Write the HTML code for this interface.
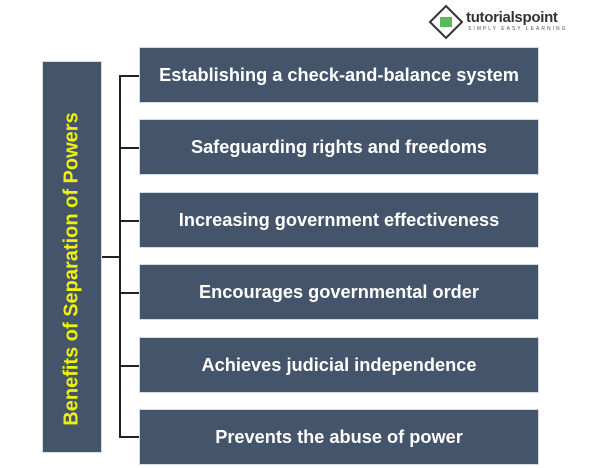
<!DOCTYPE html>
<html><head><style>
body{margin:0;width:601px;height:468px;background:#fff;position:relative;overflow:hidden;font-family:"Liberation Sans",sans-serif}
.b{position:absolute;left:139px;width:400px;height:56px;background:#44546a;border:1px solid #d6dbe2;box-sizing:border-box;color:#fff;font-weight:bold;font-size:18.2px;display:flex;align-items:center;justify-content:center;white-space:nowrap}
.l{position:absolute;background:#222}
</style></head><body>
<div style="position:absolute;left:42px;top:61px;width:60px;height:392px;background:#44546a;border:1px solid #d6dbe2;box-sizing:border-box"></div>
<div style="position:absolute;left:72px;top:269px;transform:translate(-50%,-50%) rotate(-90deg);white-space:nowrap;color:#eef20a;font-weight:bold;font-size:20px">Benefits of Separation of Powers</div>
<div class="l" style="left:102px;top:256px;width:19px;height:2px"></div>
<div class="l" style="left:119px;top:75px;width:2px;height:363px"></div>
<div class="l" style="left:119px;top:75px;width:21px;height:2px"></div>
<div class="l" style="left:119px;top:147px;width:21px;height:2px"></div>
<div class="l" style="left:119px;top:220px;width:21px;height:2px"></div>
<div class="l" style="left:119px;top:292px;width:21px;height:2px"></div>
<div class="l" style="left:119px;top:365px;width:21px;height:2px"></div>
<div class="l" style="left:119px;top:436px;width:21px;height:2px"></div>
<div class="b" style="top:47px">Establishing a check-and-balance system</div>
<div class="b" style="top:119px">Safeguarding rights and freedoms</div>
<div class="b" style="top:192px">Increasing government effectiveness</div>
<div class="b" style="top:264px">Encourages governmental order</div>
<div class="b" style="top:337px">Achieves judicial independence</div>
<div class="b" style="top:409px">Prevents the abuse of power</div>
<svg style="position:absolute;left:428px;top:4px" width="36" height="36"><polygon points="18,2 34,18 18,34 2,18" fill="#fff" stroke="#333" stroke-width="2"/><rect x="12" y="13" width="12" height="10" fill="#5cb85c"/></svg>
<div style="position:absolute;left:466px;top:9px;font-weight:bold;font-size:15px;color:#333;letter-spacing:-0.3px">tutorialspoint</div>
<div style="position:absolute;left:468px;top:26px;font-size:5px;color:#555;letter-spacing:2px">SIMPLY EASY LEARNING</div>
</body></html>
